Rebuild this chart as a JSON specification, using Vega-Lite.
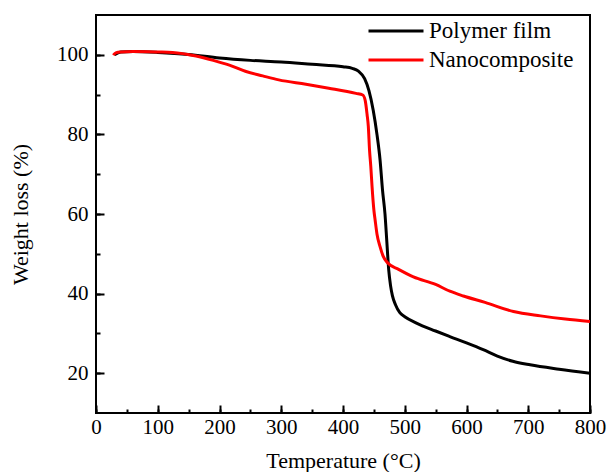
{
  "$schema": "https://vega.github.io/schema/vega-lite/v6.json",
  "width": 494,
  "height": 398,
  "autosize": "none",
  "padding": {"left": 96, "top": 15, "right": 18, "bottom": 59},
  "background": "#ffffff",
  "config": {
    "view": {"stroke": "#000000", "strokeWidth": 2},
    "font": "Liberation Serif",
    "axis": {
      "domainColor": "#000000", "domainWidth": 2,
      "ticks": true,
      "tickColor": "#000000", "tickWidth": 2, "tickOpacity": 1,
      "labelFont": "Liberation Serif", "labelFontSize": 21, "labelColor": "#000000",
      "titleFont": "Liberation Serif", "titleFontSize": 22, "titleFontWeight": "normal", "titleColor": "#000000",
      "grid": false,
      "zindex": 2
    }
  },
  "data": {
    "values": [
      {"series": "Polymer film", "t": 30, "w": 100.0},
      {"series": "Polymer film", "t": 40, "w": 100.7},
      {"series": "Polymer film", "t": 60, "w": 100.8},
      {"series": "Polymer film", "t": 100, "w": 100.6},
      {"series": "Polymer film", "t": 150, "w": 100.1},
      {"series": "Polymer film", "t": 200, "w": 99.2},
      {"series": "Polymer film", "t": 250, "w": 98.6},
      {"series": "Polymer film", "t": 300, "w": 98.2},
      {"series": "Polymer film", "t": 350, "w": 97.6},
      {"series": "Polymer film", "t": 400, "w": 97.0},
      {"series": "Polymer film", "t": 415, "w": 96.6},
      {"series": "Polymer film", "t": 425, "w": 95.9},
      {"series": "Polymer film", "t": 435, "w": 94.0},
      {"series": "Polymer film", "t": 442, "w": 91.0},
      {"series": "Polymer film", "t": 449, "w": 86.0},
      {"series": "Polymer film", "t": 455, "w": 80.0},
      {"series": "Polymer film", "t": 460, "w": 73.6},
      {"series": "Polymer film", "t": 464, "w": 66.0},
      {"series": "Polymer film", "t": 468, "w": 60.0},
      {"series": "Polymer film", "t": 471, "w": 53.0},
      {"series": "Polymer film", "t": 474, "w": 46.0},
      {"series": "Polymer film", "t": 477, "w": 42.0},
      {"series": "Polymer film", "t": 480, "w": 39.5},
      {"series": "Polymer film", "t": 485, "w": 37.2},
      {"series": "Polymer film", "t": 492, "w": 35.2},
      {"series": "Polymer film", "t": 500, "w": 34.2},
      {"series": "Polymer film", "t": 519, "w": 32.6},
      {"series": "Polymer film", "t": 550, "w": 30.6},
      {"series": "Polymer film", "t": 573, "w": 29.2},
      {"series": "Polymer film", "t": 600, "w": 27.6},
      {"series": "Polymer film", "t": 627, "w": 25.9},
      {"series": "Polymer film", "t": 650, "w": 24.3},
      {"series": "Polymer film", "t": 675, "w": 23.0},
      {"series": "Polymer film", "t": 703, "w": 22.1},
      {"series": "Polymer film", "t": 750, "w": 21.0},
      {"series": "Polymer film", "t": 800, "w": 20.0},
      {"series": "Nanocomposite", "t": 28, "w": 99.9},
      {"series": "Nanocomposite", "t": 32, "w": 100.5},
      {"series": "Nanocomposite", "t": 40, "w": 100.7},
      {"series": "Nanocomposite", "t": 60, "w": 100.8},
      {"series": "Nanocomposite", "t": 100, "w": 100.7},
      {"series": "Nanocomposite", "t": 124, "w": 100.6},
      {"series": "Nanocomposite", "t": 162, "w": 99.7},
      {"series": "Nanocomposite", "t": 190, "w": 98.6},
      {"series": "Nanocomposite", "t": 216, "w": 97.4},
      {"series": "Nanocomposite", "t": 243, "w": 95.8},
      {"series": "Nanocomposite", "t": 270, "w": 94.7},
      {"series": "Nanocomposite", "t": 296, "w": 93.7},
      {"series": "Nanocomposite", "t": 340, "w": 92.6},
      {"series": "Nanocomposite", "t": 377, "w": 91.6},
      {"series": "Nanocomposite", "t": 421, "w": 90.3},
      {"series": "Nanocomposite", "t": 432, "w": 89.9},
      {"series": "Nanocomposite", "t": 436, "w": 88.5},
      {"series": "Nanocomposite", "t": 439, "w": 85.0},
      {"series": "Nanocomposite", "t": 441, "w": 82.0},
      {"series": "Nanocomposite", "t": 443, "w": 76.0},
      {"series": "Nanocomposite", "t": 445, "w": 72.0},
      {"series": "Nanocomposite", "t": 447, "w": 67.0},
      {"series": "Nanocomposite", "t": 450, "w": 61.0},
      {"series": "Nanocomposite", "t": 452, "w": 58.5},
      {"series": "Nanocomposite", "t": 455, "w": 55.0},
      {"series": "Nanocomposite", "t": 460, "w": 51.8},
      {"series": "Nanocomposite", "t": 465, "w": 49.4},
      {"series": "Nanocomposite", "t": 473, "w": 47.6},
      {"series": "Nanocomposite", "t": 490, "w": 46.1},
      {"series": "Nanocomposite", "t": 514, "w": 44.2},
      {"series": "Nanocomposite", "t": 550, "w": 42.3},
      {"series": "Nanocomposite", "t": 573, "w": 40.6},
      {"series": "Nanocomposite", "t": 595, "w": 39.4},
      {"series": "Nanocomposite", "t": 630, "w": 37.8},
      {"series": "Nanocomposite", "t": 676, "w": 35.5},
      {"series": "Nanocomposite", "t": 720, "w": 34.4},
      {"series": "Nanocomposite", "t": 760, "w": 33.6},
      {"series": "Nanocomposite", "t": 800, "w": 33.0}
    ]
  },
  "resolve": {"axis": {"x": "independent", "y": "independent"}},
  "layer": [
    {
      "transform": [{"filter": "datum.series === 'Polymer film'"}],
      "mark": {"type": "line", "strokeWidth": 3, "interpolate": "monotone", "clip": true},
      "encoding": {
        "x": {
          "field": "t", "type": "quantitative",
          "scale": {"domain": [0, 800], "nice": false, "zero": false},
          "axis": {
            "orient": "bottom",
            "title": "Temperature (°C)",
            "values": [0, 50, 100, 150, 200, 250, 300, 350, 400, 450, 500, 550, 600, 650, 700, 750, 800],
            "labelExpr": "datum.value % 100 === 0 ? datum.label : ''",
            "domain": false,
            "offset": -4,
            "tickSize": 4,
            "labelPadding": 3,
            "titlePadding": 13,
            "labelFlush": false,
            "labelOverlap": false,
            "zindex": 2
          }
        },
        "y": {
          "field": "w", "type": "quantitative",
          "scale": {"domain": [10, 110], "nice": false, "zero": false},
          "axis": {
            "orient": "left",
            "title": "Weight loss (%)",
            "values": [20, 30, 40, 50, 60, 70, 80, 90, 100],
            "labelExpr": "datum.value % 20 === 0 ? datum.label : ''",
            "domain": false,
            "offset": -4,
            "tickSize": 4,
            "labelPadding": 8,
            "titlePadding": 24,
            "labelFlush": false,
            "labelOverlap": false,
            "zindex": 2
          }
        },
        "color": {
          "field": "series", "type": "nominal",
          "scale": {"domain": ["Polymer film", "Nanocomposite"], "range": ["#000000", "#ff0000"]},
          "legend": {
            "title": null,
            "orient": "none",
            "legendX": 271,
            "legendY": 3,
            "symbolType": "M-1,0H1",
            "symbolSize": 3025,
            "symbolStrokeWidth": 3,
            "clipHeight": 26,
            "labelFont": "Liberation Serif",
            "labelFontSize": 23,
            "labelColor": "#000000",
            "labelOffset": 4,
            "rowPadding": 3
          }
        }
      }
    },
    {
      "transform": [{"filter": "datum.series === 'Nanocomposite'"}],
      "mark": {"type": "line", "strokeWidth": 3, "interpolate": "monotone", "clip": true},
      "encoding": {
        "x": {
          "field": "t", "type": "quantitative",
          "scale": {"domain": [0, 800], "nice": false, "zero": false},
          "axis": {
            "orient": "bottom",
            "title": null,
            "values": [0, 100, 200, 300, 400, 500, 600, 700, 800],
            "offset": -8,
            "tickSize": 8,
            "labels": false,
            "domain": false,
            "zindex": 2
          }
        },
        "y": {
          "field": "w", "type": "quantitative",
          "scale": {"domain": [10, 110], "nice": false, "zero": false},
          "axis": {
            "orient": "left",
            "title": null,
            "values": [20, 40, 60, 80, 100],
            "offset": -8,
            "tickSize": 8,
            "labels": false,
            "domain": false,
            "zindex": 2
          }
        },
        "color": {"field": "series", "type": "nominal"}
      }
    }
  ]
}
